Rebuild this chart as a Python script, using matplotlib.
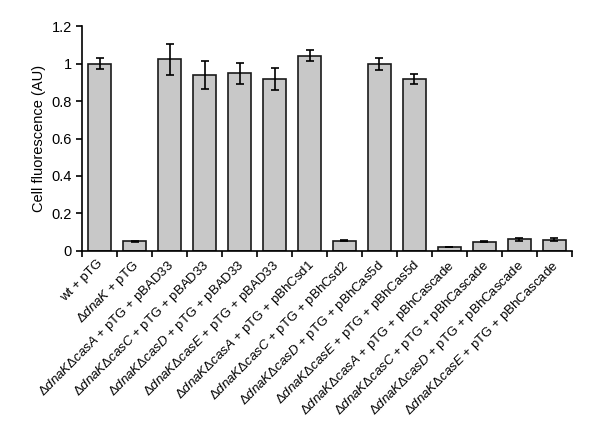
import numpy as np
import matplotlib.pyplot as plt
import matplotlib.transforms as mtransforms

plt.rcParams['font.family'] = ['Liberation Sans', 'DejaVu Sans']
plt.rcParams['mathtext.fontset'] = 'custom'
plt.rcParams['mathtext.rm'] = 'Liberation Sans'
plt.rcParams['mathtext.it'] = 'Liberation Sans:italic'

# strain, plasmid part of each label
strains = ['wt', r'$\Delta\it{dnaK}$',
           r'$\Delta\it{dnaK}\Delta\it{casA}$', r'$\Delta\it{dnaK}\Delta\it{casC}$',
           r'$\Delta\it{dnaK}\Delta\it{casD}$', r'$\Delta\it{dnaK}\Delta\it{casE}$',
           r'$\Delta\it{dnaK}\Delta\it{casA}$', r'$\Delta\it{dnaK}\Delta\it{casC}$',
           r'$\Delta\it{dnaK}\Delta\it{casD}$', r'$\Delta\it{dnaK}\Delta\it{casE}$',
           r'$\Delta\it{dnaK}\Delta\it{casA}$', r'$\Delta\it{dnaK}\Delta\it{casC}$',
           r'$\Delta\it{dnaK}\Delta\it{casD}$', r'$\Delta\it{dnaK}\Delta\it{casE}$']
plasmids = ['pTG', 'pTG',
            'pTG + pBAD33', 'pTG + pBAD33', 'pTG + pBAD33', 'pTG + pBAD33',
            'pTG + pBhCsd1', 'pTG + pBhCsd2', 'pTG + pBhCas5d', 'pTG + pBhCas5d',
            'pTG + pBhCascade', 'pTG + pBhCascade', 'pTG + pBhCascade', 'pTG + pBhCascade']
labels = [s + ' + ' + p for s, p in zip(strains, plasmids)]

values = [1.0, 0.05, 1.024, 0.937, 0.948, 0.919, 1.042, 0.055, 0.997, 0.919,
          0.021, 0.048, 0.062, 0.059]
errors = [0.03, 0.003, 0.083, 0.075, 0.058, 0.06, 0.03, 0.003, 0.032, 0.026,
          0.002, 0.003, 0.009, 0.007]

fig = plt.figure(figsize=(6, 4.37), dpi=100)
ax = fig.add_axes([0.137, 0.426, 0.816, 0.514])

x = np.arange(len(values))
ax.bar(x, values, width=0.66, color='#c8c8c8', edgecolor='#1a1a1a', linewidth=1.2,
       yerr=errors, error_kw=dict(ecolor='black', elinewidth=1.2, capsize=3, capthick=1.2))

ax.set_xlim(-0.5, len(values) - 0.5)
ax.set_ylim(0, 1.2)
ax.set_yticks([0, 0.2, 0.4, 0.6, 0.8, 1.0, 1.2])
ax.set_yticklabels(['0', '0.2', '0.4', '0.6', '0.8', '1', '1.2'], fontsize=10.5)
ax.set_ylabel('Cell fluorescence (AU)', fontsize=10.5)

ax.set_xticks(np.arange(-0.5, len(values), 1.0))
ax.set_xticklabels([])
ax.set_xticks(x, minor=True)
ax.set_xticklabels(labels, minor=True, rotation=45, ha='right', va='top',
                   rotation_mode='anchor', fontsize=9.5)
ax.tick_params(axis='x', which='minor', length=0, pad=5)
ax.tick_params(axis='x', which='major', direction='out', length=4, width=1.2)
ax.tick_params(axis='y', direction='out', length=4, width=1.2)

# nudge the rotated labels a little to the left
shift = mtransforms.ScaledTranslation(-2 / 72, 0, fig.dpi_scale_trans)
for t in ax.get_xticklabels(minor=True):
    t.set_transform(t.get_transform() + shift)

ax.spines['top'].set_visible(False)
ax.spines['right'].set_visible(False)
ax.spines['left'].set_linewidth(1.2)
ax.spines['bottom'].set_linewidth(1.2)

plt.savefig('out.png', dpi=100)
